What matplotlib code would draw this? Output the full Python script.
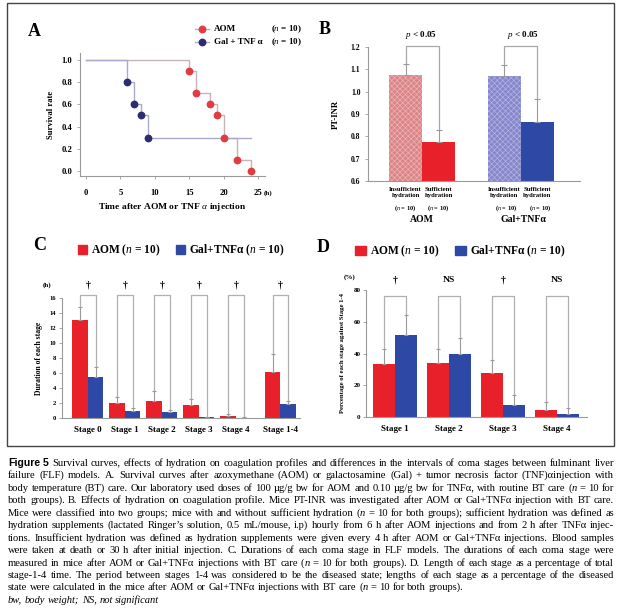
import math
import matplotlib
matplotlib.use("Agg")
import matplotlib.pyplot as plt
from matplotlib.patches import Rectangle
from matplotlib.lines import Line2D
import numpy as np

plt.rcParams['hatch.linewidth'] = 0.5
SERIF = 'Liberation Serif'
plt.rcParams['mathtext.fontset'] = 'custom'
plt.rcParams['mathtext.rm'] = SERIF
plt.rcParams['mathtext.it'] = SERIF + ':italic'
plt.rcParams['mathtext.bf'] = SERIF + ':bold'
plt.rcParams['mathtext.bfit'] = SERIF + ':bold:italic'

# ---------------- data ----------------
aom_t = [0, 15, 16, 18, 19, 20, 22, 24]
aom_s = [1.0, 0.9, 0.7, 0.6, 0.5, 0.3, 0.1, 0.0]
gal_t = [0, 6, 7, 8, 9, 24]
gal_s = [1.0, 0.8, 0.6, 0.5, 0.3, 0.3]
a_xticks = [0, 5, 10, 15, 20, 25]
a_yticks = [0.0, 0.2, 0.4, 0.6, 0.8, 1.0]

b_labels = ["Insufficient\nhydration", "Sufficient\nhydration",
            "Insufficient\nhydration", "Sufficient\nhydration"]
b_values = [1.075, 0.775, 1.07, 0.865]
b_err = [0.05, 0.055, 0.05, 0.10]
b_groups = ["AOM", "Gal+TNFα"]
b_yticks = [0.6, 0.7, 0.8, 0.9, 1.0, 1.1, 1.2]

c_stages = ["Stage 0", "Stage 1", "Stage 2", "Stage 3", "Stage 4", "Stage 1-4"]
c_aom = [13.0, 2.05, 2.3, 1.8, 0.25, 6.2]
c_aom_err = [1.8, 0.7, 1.3, 0.8, 0.35, 2.4]
c_gal = [5.5, 0.97, 0.75, 0.15, 0.05, 1.85]
c_gal_err = [1.25, 0.3, 0.35, 0.05, 0.05, 0.45]
c_sig = ["†", "†", "†", "†", "†", "†"]
c_yticks = [0, 2, 4, 6, 8, 10, 12, 14, 16]

d_stages = ["Stage 1", "Stage 2", "Stage 3", "Stage 4"]
d_aom = [33.3, 34.0, 28.0, 4.2]
d_aom_err = [9.5, 9.0, 8.0, 5.3]
d_gal = [51.8, 39.6, 7.7, 2.0]
d_gal_err = [12.5, 10.0, 6.3, 3.5]
d_sig = ["†", "NS", "†", "NS"]
d_yticks = [0, 20, 40, 60, 80]

caption = [
    ("^Figure 5^ Survival curves, effects of hydration on coagulation profiles and differences in the intervals of coma stages between fulminant liver", True, False),
    ("failure (FLF) models. A. Survival curves after azoxymethane (AOM) or galactosamine (Gal) + tumor necrosis factor (TNF)αinjection with", True, False),
    ("body temperature (BT) care. Our laboratory used doses of 100 µg/g bw for AOM and 0.10 µg/g bw for TNFα, with routine BT care (~n~ = 10 for", True, False),
    ("both groups). B. Effects of hydration on coagulation profile. Mice PT-INR was investigated after AOM or Gal+TNFα injection with BT care.", True, False),
    ("Mice were classified into two groups; mice with and without sufficient hydration (~n~ = 10 for both groups); sufficient hydration was defined as", True, False),
    ("hydration supplements (lactated Ringer’s solution, 0.5 mL/mouse, i.p) hourly from 6 h after AOM injections and from 2 h after TNFα injec-", True, False),
    ("tions. Insufficient hydration was defined as hydration supplements were given every 4 h after AOM or Gal+TNFα injections. Blood samples", True, False),
    ("were taken at death or 30 h after initial injection. C. Durations of each coma stage in FLF models. The durations of each coma stage were", True, False),
    ("measured in mice after AOM or Gal+TNFα injections with BT care (~n~ = 10 for both groups). D. Length of each stage as a percentage of total", True, False),
    ("stage-1-4 time. The period between stages 1-4 was considered to be the diseased state; lengths of each stage as a percentage of the diseased", True, False),
    ("state were calculated in the mice after AOM or Gal+TNFα injections with BT care (~n~ = 10 for both groups).", False, False),
    ("bw, body weight; NS, not significant", False, True),
]

# ---------------- figure ----------------
W, H = 624, 608
fig = plt.figure(figsize=(W / 100, H / 100), dpi=100)
RED = '#e8202a'
BLUE = '#2e48a6'
GRAY = '#9a9a9a'


def fx(x):
    return x / W


def fy(y):
    return 1 - y / H


def axes_px(l, t, r, b):
    return fig.add_axes([fx(l), fy(b), (r - l) / W, (b - t) / H])


def style_axes(ax, fs):
    for s in ['top', 'right']:
        ax.spines[s].set_visible(False)
    for s in ['left', 'bottom']:
        ax.spines[s].set_color(GRAY)
        ax.spines[s].set_linewidth(0.8)
    ax.tick_params(colors=GRAY, labelcolor='black', width=0.6, length=2.5,
                   labelsize=fs)
    for lab in ax.get_xticklabels() + ax.get_yticklabels():
        lab.set_fontfamily(SERIF)
        lab.set_fontweight('bold')


def ftext(x, y, s, size, **kw):
    kw.setdefault('ha', 'center')
    kw.setdefault('va', 'center')
    kw.setdefault('weight', 'bold')
    kw.setdefault('family', SERIF)
    return fig.text(fx(x), fy(y), s, fontsize=size, **kw)


# border box
fig.add_artist(Rectangle((fx(7), fy(446)), (614 - 7) / W, (446 - 3) / H,
                         transform=fig.transFigure, fill=False, lw=1.0, ec='#444444'))

# ---------------- Panel A ----------------
axA = axes_px(80, 53, 265, 176)
axA.step(aom_t, aom_s, where='post', color='#c9b3bb', lw=1.0, zorder=1)
axA.step(gal_t, gal_s, where='post', color='#a9aacb', lw=1.0, zorder=1)
axA.plot(aom_t[1:], aom_s[1:], 'o', color='#e23b40', ms=4.6, zorder=3)
axA.plot(gal_t[1:-1], gal_s[1:-1], 'o', color='#2d2c72', ms=4.6, zorder=3)
axA.set_xlim(-0.87, 26.0)
axA.set_ylim(-0.045, 1.063)
axA.set_xticks(a_xticks)
axA.set_yticks(a_yticks)
axA.set_yticklabels([f"{v:.1f}" for v in a_yticks])
style_axes(axA, 6.2)
axA.tick_params(axis='x', pad=7)
axA.tick_params(axis='y', pad=3)
axA.set_ylabel("Survival rate", fontsize=6.2, fontweight='bold', family=SERIF, labelpad=5)
ftext(268, 193, "(h)", 5)
ftext(172, 207, "Time after AOM or TNF $\\alpha$ injection", 6.8)
ftext(34, 32, "A", 13)
# legend A
for yy, col, lab in [(29, '#e23b40', 'AOM'), (42, '#2d2c72', 'Gal + TNF α')]:
    fig.add_artist(Line2D([fx(195), fx(209)], [fy(yy), fy(yy)], color='#b0b0c8',
                          lw=1.0, transform=fig.transFigure))
    fig.add_artist(Line2D([fx(202)], [fy(yy)], marker='o', color=col, ms=4.6,
                          transform=fig.transFigure))
    ftext(214, yy, lab, 6.5, ha='left')
    ftext(302, yy, "($\\mathit{n}$ = 10)", 6.5, ha='right')

# ---------------- Panel B ----------------
axB = axes_px(368, 47, 580, 181)
b_pos = [0, 1, 3, 4]
b_face = ['#dc8588', RED, '#8686cc', BLUE]
b_edge = ['#ebb3b3', RED, '#b2b2e0', BLUE]
b_hatch = ['xxxxxx', None, 'xxxxxx', None]
for p, v, fc, ec, h in zip(b_pos, b_values, b_face, b_edge, b_hatch):
    axB.bar(p, v, width=1.0, color=fc, edgecolor=ec, hatch=h, lw=0, zorder=2)
axB.errorbar(b_pos, b_values, yerr=[[0] * 4, b_err], fmt='none', ecolor=GRAY,
             elinewidth=0.8, capsize=2, capthick=0.8, zorder=3)
axB.set_xlim(-1.14, 5.29)
axB.set_ylim(0.6, 1.2)
axB.set_yticks(b_yticks)
axB.set_yticklabels([f"{v:.1f}" for v in b_yticks])
axB.set_xticks(b_pos)
axB.set_xticklabels(b_labels, linespacing=1.3)
style_axes(axB, 5.5)
axB.tick_params(axis='x', length=0, pad=4, labelsize=4.8)
axB.tick_params(axis='y', pad=3)
axB.set_ylabel("PT-INR", fontsize=6.2, fontweight='bold', family=SERIF, labelpad=8)
for i in range(2):
    i1, i2 = 2 * i, 2 * i + 1
    top = 1.206
    axB.plot([b_pos[i1], b_pos[i1], b_pos[i2], b_pos[i2]],
             [b_values[i1] + b_err[i1], top, top, b_values[i2] + b_err[i2]],
             color='#a8a8a8', lw=0.9, clip_on=False, zorder=1)
ftext(421, 35, "$\\mathbf{\\mathit{p}}$ < 0.05", 6.5)
ftext(523, 35, "$\\mathbf{\\mathit{p}}$ < 0.05", 6.5)
for x in [405, 438, 506, 540]:
    ftext(x, 208, "($\\mathit{n}$ = 10)", 4.6)
ftext(422, 219, b_groups[0], 7)
ftext(523, 219, b_groups[1], 7)
ftext(325, 30, "B", 13)

# ---------------- Panel C ----------------
axC = axes_px(62, 298, 300, 418)
c_pos = np.array([0, 1, 2, 3, 4, 5.2])
w = 0.42
axC.bar(c_pos - w / 2, c_aom, w, color=RED, zorder=2)
axC.bar(c_pos + w / 2, c_gal, w, color=BLUE, zorder=2)
axC.errorbar(c_pos - w / 2, c_aom, yerr=[[0] * 6, c_aom_err], fmt='none',
             ecolor=GRAY, elinewidth=0.8, capsize=1.5, capthick=0.8, zorder=3)
axC.errorbar(c_pos + w / 2, c_gal, yerr=[[0] * 6, c_gal_err], fmt='none',
             ecolor=GRAY, elinewidth=0.8, capsize=1.5, capthick=0.8, zorder=3)
ctop = 16.4
for p, a, ae, g, ge, s in zip(c_pos, c_aom, c_aom_err, c_gal, c_gal_err, c_sig):
    axC.plot([p - w / 2, p - w / 2, p + w / 2, p + w / 2],
             [a + ae, ctop, ctop, g + ge], color='#b0b0b0', lw=0.9,
             clip_on=False, zorder=1)
    axC.annotate(s, xy=(p, 1.0), xycoords=('data', 'axes fraction'),
                 xytext=(0, 9.5), textcoords='offset points', ha='center',
                 va='center', fontsize=7, fontweight='bold', family=SERIF,
                 annotation_clip=False)
axC.set_xlim(-0.70, 5.73)
axC.set_ylim(0, 16)
axC.set_yticks(c_yticks)
axC.set_xticks(c_pos)
axC.set_xticklabels(c_stages)
style_axes(axC, 4.8)
axC.tick_params(axis='x', length=0, pad=6, labelsize=6.5)
axC.tick_params(axis='y', pad=2, length=2)
axC.set_ylabel("Duration of each stage", fontsize=5.5, fontweight='bold',
               family=SERIF, labelpad=5)
ftext(47, 285, "(h)", 5)
ftext(40, 245, "C", 13)
fig.add_artist(Rectangle((fx(78), fy(254)), 9 / W, 9 / H, transform=fig.transFigure,
                         color=RED))
ftext(91, 250, "AOM ($\\mathbf{\\mathit{n}}$ = 10)", 8.3, ha='left')
fig.add_artist(Rectangle((fx(176), fy(254)), 9 / W, 9 / H, transform=fig.transFigure,
                         color=BLUE))
ftext(189, 250, "Gal+TNFα ($\\mathbf{\\mathit{n}}$ = 10)", 8.3, ha='left')

# ---------------- Panel D ----------------
axD = axes_px(366, 290, 587, 417)
d_pos = np.arange(4)
w = 0.41
axD.bar(d_pos - w / 2, d_aom, w, color=RED, zorder=2)
axD.bar(d_pos + w / 2, d_gal, w, color=BLUE, zorder=2)
axD.errorbar(d_pos - w / 2, d_aom, yerr=[[0] * 4, d_aom_err], fmt='none',
             ecolor=GRAY, elinewidth=0.8, capsize=1.5, capthick=0.8, zorder=3)
axD.errorbar(d_pos + w / 2, d_gal, yerr=[[0] * 4, d_gal_err], fmt='none',
             ecolor=GRAY, elinewidth=0.8, capsize=1.5, capthick=0.8, zorder=3)
dtop = 76
for p, a, ae, g, ge, s in zip(d_pos, d_aom, d_aom_err, d_gal, d_gal_err, d_sig):
    axD.plot([p - w / 2, p - w / 2, p + w / 2, p + w / 2],
             [a + ae, dtop, dtop, g + ge], color='#b0b0b0', lw=0.9,
             clip_on=False, zorder=1)
    axD.annotate(s, xy=(p, 1.0), xycoords=('data', 'axes fraction'),
                 xytext=(0, 7), textcoords='offset points', ha='center',
                 va='center', fontsize=6.8 if s == 'NS' else 7, fontweight='bold',
                 family=SERIF, annotation_clip=False)
axD.set_xlim(-0.54, 3.56)
axD.set_ylim(0, 80)
axD.set_yticks(d_yticks)
axD.set_xticks(d_pos)
axD.set_xticklabels(d_stages)
style_axes(axD, 5.0)
axD.tick_params(axis='x', length=0, pad=6, labelsize=6.5)
axD.tick_params(axis='y', pad=2, length=2)
axD.set_ylabel("Percentage of each stage against Stage 1-4", fontsize=4.8,
               fontweight='bold', family=SERIF, labelpad=6)
ftext(350, 277, "(%)", 5)
ftext(323, 247, "D", 13)
fig.add_artist(Rectangle((fx(355), fy(255)), 11 / W, 9 / H, transform=fig.transFigure,
                         color=RED))
ftext(370, 251, "AOM ($\\mathbf{\\mathit{n}}$ = 10)", 8.3, ha='left')
fig.add_artist(Rectangle((fx(455), fy(255)), 11 / W, 9 / H, transform=fig.transFigure,
                         color=BLUE))
ftext(470, 251, "Gal+TNFα ($\\mathbf{\\mathit{n}}$ = 10)", 8.3, ha='left')

# ---------------- caption (justified) ----------------
fig.canvas.draw()
rend = fig.canvas.get_renderer()
CAP_FS = 7.55
X0, X1 = 8, 614

try:
    from matplotlib.backends.backend_agg import get_hinting_flag
except Exception:
    get_hinting_flag = None


def parse(line, italic):
    st = {'i': italic, 'b': False}
    words = []
    for wd in line.split(' '):
        segs, buf = [], ''
        for ch in wd:
            if ch in '~^':
                if buf:
                    segs.append((buf, st['i'], st['b']))
                    buf = ''
                st['i' if ch == '~' else 'b'] ^= True
            else:
                buf += ch
        if buf:
            segs.append((buf, st['i'], st['b']))
        words.append(segs)
    return words


def mk(t, it, bd, x, y, fs):
    return fig.text(fx(x), fy(y), t, fontsize=fs,
                    family='Liberation Sans' if bd else SERIF,
                    style='italic' if it else 'normal',
                    weight='bold' if bd else 'normal', ha='left', va='baseline')


def snap_baseline(o, B):
    """Place the text so its rasterised baseline lands on pixel row B."""
    try:
        font = rend._prepare_font(o.get_fontproperties())
        font.set_text(o.get_text(), 0, flags=get_hinting_flag())
        d = font.get_descent() / 64.0
        hh = font.get_width_height()[1] / 64.0
        ymax = hh - d
        K = B + math.floor(hh) - math.floor(ymax)
        t = K - d
        o.set_y(1 - t / H)
    except Exception:
        o.set_y(fy(B))


def space_width(fs):
    p1 = mk("a a", False, False, 0, 0, fs)
    p2 = mk("aa", False, False, 0, 0, fs)
    sw = p1.get_window_extent(rend).width - p2.get_window_extent(rend).width
    p1.remove()
    p2.remove()
    return sw


def build_line(line, ital, yb, fs):
    words = parse(line, ital)
    objs, widths = [], []
    for segs in words:
        row, tw = [], 0
        for t, it, bd in segs:
            o = mk(t, it, bd, 0, yb, fs)
            ww = o.get_window_extent(rend).width
            row.append((o, ww))
            tw += ww
        objs.append(row)
        widths.append(tw)
    return objs, widths


for li, (line, just, ital) in enumerate(caption):
    yb = int(round(466 + 12.45 * li))
    fs = CAP_FS
    sw = space_width(fs)
    objs, widths = build_line(line, ital, yb, fs)
    # shrink the size slightly if a justified line would not fit
    while just and sum(widths) + 0.8 * sw * (len(widths) - 1) > (X1 - X0) and fs > 6.5:
        for row in objs:
            for o, _ in row:
                o.remove()
        fs -= 0.1
        sw = space_width(fs)
        objs, widths = build_line(line, ital, yb, fs)
    for row in objs:
        for o, _ in row:
            snap_baseline(o, yb)
    total = sum(widths)
    if just and len(widths) > 1:
        sp = (X1 - X0 - total) / (len(widths) - 1)
    else:
        sp = sw
    x = X0
    for row, tw in zip(objs, widths):
        xx = x
        for o, ww in row:
            o.set_x(fx(xx))
            xx += ww
        x += tw + sp

fig.savefig("out.png", dpi=100)
